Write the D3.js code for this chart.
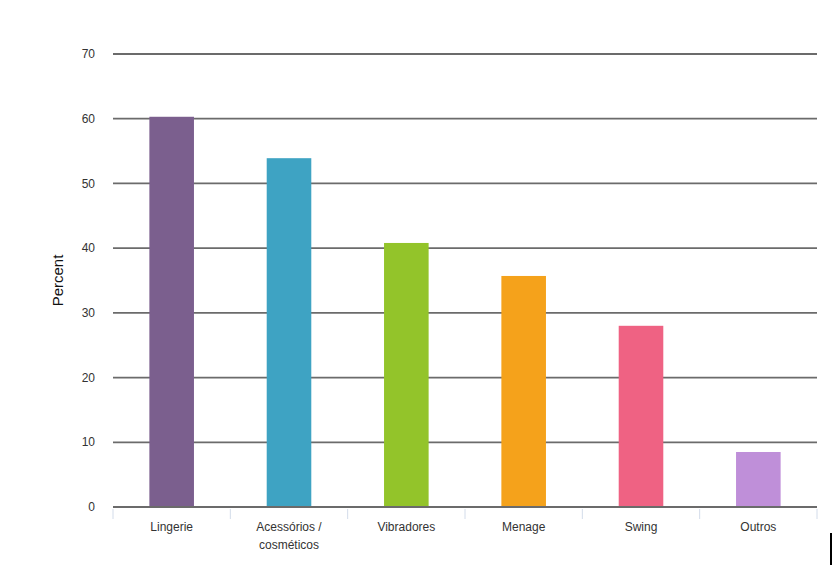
<!DOCTYPE html>
<html>
<head>
<meta charset="utf-8">
<script src="https://cdn.jsdelivr.net/npm/d3@7"></script>
<style>
  body { margin: 0; background: #fff; }
  text { font-family: "Liberation Sans", Arial, sans-serif; }
</style>
</head>
<body>
<div class="graph"></div>
<script>
var categories = ["Lingerie", "Acessórios / cosméticos", "Vibradores", "Menage", "Swing", "Outros"];
var labelLines = [["Lingerie"], ["Acessórios /", "cosméticos"], ["Vibradores"], ["Menage"], ["Swing"], ["Outros"]];
var values = [60.3, 53.9, 40.8, 35.7, 28.0, 8.5];
var colors = ["#7b5f8e", "#3ea3c3", "#93c42a", "#f5a21b", "#ef6283", "#bf8fd9"];
var yTicks = [0, 10, 20, 30, 40, 50, 60, 70];

var width = 840;
var height = 582;
var plotLeft = 113, plotRight = 817, plotTop = 54, plotBottom = 507;

var svg = d3.select(".graph").append("svg")
  .attr("width", width)
  .attr("height", height);

var x = d3.scaleBand()
  .domain(categories)
  .range([plotLeft, plotRight])
  .paddingInner(0.62)
  .paddingOuter(0.31);

var y = d3.scaleLinear()
  .domain([0, 70])
  .range([plotBottom, plotTop]);

// gridlines
svg.append("g")
  .selectAll("line")
  .data(yTicks)
  .enter().append("line")
  .attr("x1", plotLeft)
  .attr("x2", plotRight)
  .attr("y1", d => y(d))
  .attr("y2", d => y(d))
  .attr("stroke", "#6b6b6b")
  .attr("stroke-width", 1.8);

// y labels
svg.append("g")
  .selectAll("text")
  .data(yTicks)
  .enter().append("text")
  .attr("x", 95)
  .attr("y", d => y(d))
  .attr("dy", "0.35em")
  .attr("text-anchor", "end")
  .attr("font-size", "12px")
  .attr("fill", "#333")
  .text(d => d);

// bars
svg.append("g")
  .selectAll("rect")
  .data(values)
  .enter().append("rect")
  .attr("x", (d, i) => x(categories[i]))
  .attr("width", x.bandwidth())
  .attr("y", d => y(d))
  .attr("height", d => y(0) - y(d))
  .attr("fill", (d, i) => colors[i]);

// baseline again on top of bars
svg.append("line")
  .attr("x1", plotLeft).attr("x2", plotRight)
  .attr("y1", y(0)).attr("y2", y(0))
  .attr("stroke", "#6b6b6b")
  .attr("stroke-width", 1.8);

// category boundary ticks
var bounds = d3.range(categories.length + 1).map(i => plotLeft + i * (plotRight - plotLeft) / categories.length);
svg.append("g")
  .selectAll("line")
  .data(bounds)
  .enter().append("line")
  .attr("x1", d => d).attr("x2", d => d)
  .attr("y1", y(0) + 2).attr("y2", y(0) + 12)
  .attr("stroke", "#d3dcea")
  .attr("stroke-width", 1);

// x labels
var xl = svg.append("g")
  .selectAll("text")
  .data(labelLines)
  .enter().append("text")
  .attr("x", (d, i) => x(categories[i]) + x.bandwidth() / 2)
  .attr("y", 531)
  .attr("text-anchor", "middle")
  .attr("font-size", "12px")
  .attr("fill", "#333");

xl.selectAll("tspan")
  .data(d => d)
  .enter().append("tspan")
  .attr("x", function () { return d3.select(this.parentNode).attr("x"); })
  .attr("dy", (d, i) => i === 0 ? 0 : "1.5em")
  .text(d => d);

// y axis title
svg.append("text")
  .attr("transform", "translate(63," + ((plotTop + plotBottom) / 2) + ") rotate(-90)")
  .attr("text-anchor", "middle")
  .attr("font-size", "15px")
  .attr("fill", "#111")
  .text("Percent");

// stray cursor mark at the bottom right
svg.append("line")
  .attr("x1", 831).attr("x2", 831)
  .attr("y1", 533).attr("y2", 565)
  .attr("stroke", "#000")
  .attr("stroke-width", 2);
</script>
</body>
</html>
